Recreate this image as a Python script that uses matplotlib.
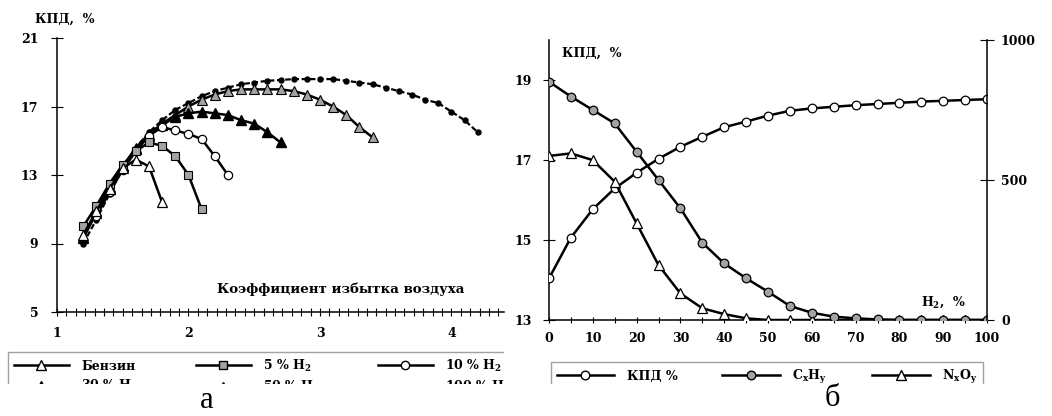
import matplotlib
matplotlib.use("Agg")
import matplotlib.pyplot as plt
from matplotlib.lines import Line2D
from matplotlib.patches import Rectangle
from matplotlib.ticker import MultipleLocator

plt.rcParams["font.family"] = ["DejaVu Serif"]
plt.rcParams["font.weight"] = "bold"
plt.rcParams["mathtext.fontset"] = "dejavuserif"
plt.rcParams["mathtext.default"] = "bf"

# --- panel a: efficiency vs excess air ratio ---
alpha_benz = [1.2, 1.3, 1.4, 1.5, 1.6, 1.7, 1.8]
eff_benz = [9.5, 10.9, 12.2, 13.4, 13.9, 13.5, 11.4]

alpha_h5 = [1.2, 1.3, 1.4, 1.5, 1.6, 1.7, 1.8, 1.9, 2.0, 2.1]
eff_h5 = [10.0, 11.2, 12.5, 13.6, 14.4, 14.9, 14.7, 14.1, 13.0, 11.0]

alpha_h10 = [1.3, 1.4, 1.5, 1.6, 1.7, 1.8, 1.9, 2.0, 2.1, 2.2, 2.3]
eff_h10 = [10.6, 12.0, 13.3, 14.4, 15.3, 15.8, 15.6, 15.4, 15.1, 14.1, 13.0]

alpha_h30 = [1.2, 1.3, 1.4, 1.5, 1.6, 1.7, 1.8, 1.9, 2.0, 2.1, 2.2, 2.3, 2.4, 2.5, 2.6, 2.7]
eff_h30 = [9.3, 10.8, 12.2, 13.5, 14.5, 15.3, 15.9, 16.4, 16.6, 16.7, 16.6, 16.5, 16.2, 16.0, 15.5, 14.9]

alpha_h50 = [1.2, 1.3, 1.4, 1.5, 1.6, 1.7, 1.8, 1.9, 2.0, 2.1, 2.2, 2.3,
             2.4, 2.5, 2.6, 2.7, 2.8, 2.9, 3.0, 3.1, 3.2, 3.3, 3.4]
eff_h50 = [9.4, 10.9, 12.3, 13.5, 14.6, 15.4, 16.0, 16.5, 17.0, 17.4, 17.7, 17.9,
           18.0, 18.0, 18.0, 18.0, 17.9, 17.7, 17.4, 17.0, 16.5, 15.8, 15.2]

alpha_h100 = [1.2, 1.3, 1.4, 1.5, 1.6, 1.7, 1.8, 1.9, 2.0, 2.1, 2.2, 2.3, 2.4, 2.5, 2.6, 2.7,
              2.8, 2.9, 3.0, 3.1, 3.2, 3.3, 3.4, 3.5, 3.6, 3.7, 3.8, 3.9, 4.0, 4.1, 4.2]
eff_h100 = [9.0, 10.4, 11.9, 13.4, 14.6, 15.5, 16.2, 16.8, 17.2, 17.6, 17.9, 18.1, 18.3, 18.4, 18.5, 18.55,
            18.6, 18.6, 18.6, 18.6, 18.5, 18.4, 18.3, 18.1, 17.9, 17.7, 17.4, 17.2, 16.7, 16.2, 15.5]

# --- panel b: efficiency and emissions vs hydrogen share ---
h2_share = [0, 5, 10, 15, 20, 25, 30, 35, 40, 45, 50, 55, 60, 65, 70, 75, 80, 85, 90, 95, 100]
eff_b = [14.04, 15.06, 15.77, 16.29, 16.68, 17.03, 17.33, 17.58, 17.82, 17.96, 18.11,
         18.23, 18.29, 18.33, 18.37, 18.40, 18.43, 18.46, 18.48, 18.50, 18.52]
chx = [851, 798, 750, 702, 601, 500, 399, 276, 202, 149, 101,
       50, 26, 12, 6, 2, 0, 0, 0, 0, 0]
nox = [586, 595, 571, 494, 345, 196, 95, 42, 21, 6, 0,
       0, 0, 0, 0, 0, 0, 0, 0, 0, 0]

GREY = "#a3a3a3"
W, H = 1052, 416

fig = plt.figure(figsize=(W / 100, H / 100), dpi=100)


def box(x0, y0, x1, y1):
    # pixel box (top-left origin) -> figure fraction rect
    return [x0 / W, 1 - y1 / H, (x1 - x0) / W, (y1 - y0) / H]


# ---------------- panel a ----------------
axa = fig.add_axes(box(57, 38, 504, 312))
lw = 1.8
axa.plot(alpha_h100, eff_h100, color="k", lw=1.6, ls=(0, (2.5, 1.2)), marker="o", ms=3.6, mfc="k", mec="k")
axa.plot(alpha_h50, eff_h50, color="k", lw=lw, marker="^", ms=7, mfc=GREY, mec="k", mew=0.8)
axa.plot(alpha_h30, eff_h30, color="k", lw=lw, marker="^", ms=6.5, mfc="k", mec="k")
axa.plot(alpha_h10, eff_h10, color="k", lw=lw, marker="o", ms=6, mfc="white", mec="k", mew=0.9)
axa.plot(alpha_h5, eff_h5, color="k", lw=lw, marker="s", ms=6, mfc=GREY, mec="k", mew=0.8)
axa.plot(alpha_benz, eff_benz, color="k", lw=lw, marker="^", ms=7.5, mfc="white", mec="k", mew=0.9)

axa.set_xlim(1, 4.4)
axa.set_ylim(5, 21)
axa.set_xticks([1, 2, 3, 4])
axa.xaxis.set_minor_locator(MultipleLocator(1 / 14))
axa.set_yticks([5, 9, 13, 17, 21])
for s in ("top", "right"):
    axa.spines[s].set_visible(False)
for s in ("left", "bottom"):
    axa.spines[s].set_linewidth(1.1)
axa.tick_params(axis="x", which="both", direction="inout", length=6, width=0.8, pad=8, labelsize=9)
axa.tick_params(axis="y", direction="inout", length=9, width=0.8, pad=9, labelsize=9)
axa.text(2.22, 6.3, "Коэффициент избытка воздуха", fontsize=9.6, ha="left", va="center", clip_on=True)
fig.text(35 / W, 1 - 19 / H, "КПД,  %", fontsize=9, ha="left", va="center")

leg_a = [
    Line2D([], [], color="k", lw=lw, marker="^", ms=7.5, mfc="white", mec="k", label="Бензин"),
    Line2D([], [], color="k", lw=lw, marker="^", ms=6.5, mfc="k", mec="k", label="30 % H$_2$"),
    Line2D([], [], color="k", lw=lw, marker="s", ms=6, mfc=GREY, mec="k", label="5 % H$_2$"),
    Line2D([], [], color="k", lw=lw, marker="^", ms=7, mfc=GREY, mec="k", label="50 % H$_2$"),
    Line2D([], [], color="k", lw=lw, marker="o", ms=6, mfc="white", mec="k", label="10 % H$_2$"),
    Line2D([], [], color="k", lw=1.6, ls=(0, (2.5, 1.2)), marker="o", ms=3.6, mfc="k", mec="k", label="100 % H$_2$"),
]
la = fig.legend(handles=leg_a, ncol=3, loc="upper left", bbox_to_anchor=(8 / W, 1 - 352 / H),
                fontsize=9, frameon=True, fancybox=False, edgecolor="#8a8a8a", borderaxespad=0,
                handlelength=4.4, handletextpad=1.0, columnspacing=4.6, labelspacing=0.45,
                borderpad=0.45)
la.get_frame().set_linewidth(1.0)
la.set_zorder(5)

# ---------------- panel b ----------------
axb = fig.add_axes(box(549, 40, 987, 320))
axb2 = axb.twinx()
axb.plot(h2_share, eff_b, color="k", lw=lw, marker="o", ms=6.2, mfc="white", mec="k", mew=0.9, zorder=3)
axb2.plot(h2_share, nox, color="k", lw=lw, marker="^", ms=7.5, mfc="white", mec="k", mew=0.9)
axb2.plot(h2_share, chx, color="k", lw=lw, marker="o", ms=6.2, mfc=GREY, mec="k", mew=0.9)

axb.set_xlim(0, 100)
axb.set_ylim(13, 20)
axb2.set_ylim(0, 1000)
axb.set_xticks(range(0, 101, 10))
axb.xaxis.set_minor_locator(MultipleLocator(5))
axb.set_yticks([13, 15, 17, 19])
axb2.set_yticks([0, 500, 1000])
for s in ("top", "right"):
    axb.spines[s].set_visible(False)
for s in ("top", "left", "bottom"):
    axb2.spines[s].set_visible(False)
axb.spines["left"].set_linewidth(1.1)
axb.spines["bottom"].set_linewidth(1.1)
axb2.spines["right"].set_linewidth(1.1)
axb.tick_params(axis="x", which="both", direction="inout", length=4, width=0.8, pad=7, labelsize=9)
axb.tick_params(axis="y", direction="inout", length=9, width=0.8, pad=8, labelsize=9)
axb2.tick_params(axis="y", direction="inout", length=10, width=0.8, pad=5, labelsize=9)
axb.text(3, 19.68, "КПД,  %", fontsize=9, ha="left", va="center")
axb.text(90, 13.45, "H$_2$,  %", fontsize=9, ha="center", va="center")

leg_b = [
    Line2D([], [], color="k", lw=lw, marker="o", ms=6.2, mfc="white", mec="k", label="КПД %"),
    Line2D([], [], color="k", lw=lw, marker="o", ms=6.2, mfc=GREY, mec="k", label="C$_x$H$_y$"),
    Line2D([], [], color="k", lw=lw, marker="^", ms=7.5, mfc="white", mec="k", label="N$_x$O$_y$"),
]
lb = fig.legend(handles=leg_b, ncol=3, loc="upper left", bbox_to_anchor=(551 / W, 1 - 362 / H),
                fontsize=9, frameon=True, fancybox=False, edgecolor="#8a8a8a", borderaxespad=0,
                handlelength=4.6, handletextpad=1.0, columnspacing=3.6, labelspacing=0.45,
                borderpad=0.45)
lb.get_frame().set_linewidth(1.0)
lb.set_zorder(7)

# crop edges like the scanned source
fig.add_artist(Rectangle((504 / W, 1 - 384 / H), 47 / W, 40 / H, transform=fig.transFigure,
                         fc="white", ec="none", zorder=6))
fig.add_artist(Rectangle((0, 0), 1, 1 - 384 / H, transform=fig.transFigure,
                         fc="white", ec="none", zorder=20))

fig.text(207 / W, 1 - 400 / H, "а", fontsize=22, family="Liberation Serif", weight="normal",
         ha="center", va="center", zorder=30)
fig.text(832 / W, 1 - 399 / H, "б", fontsize=22, family="Liberation Serif", weight="normal",
         ha="center", va="center", zorder=30)

fig.savefig("out.png", dpi=100)
